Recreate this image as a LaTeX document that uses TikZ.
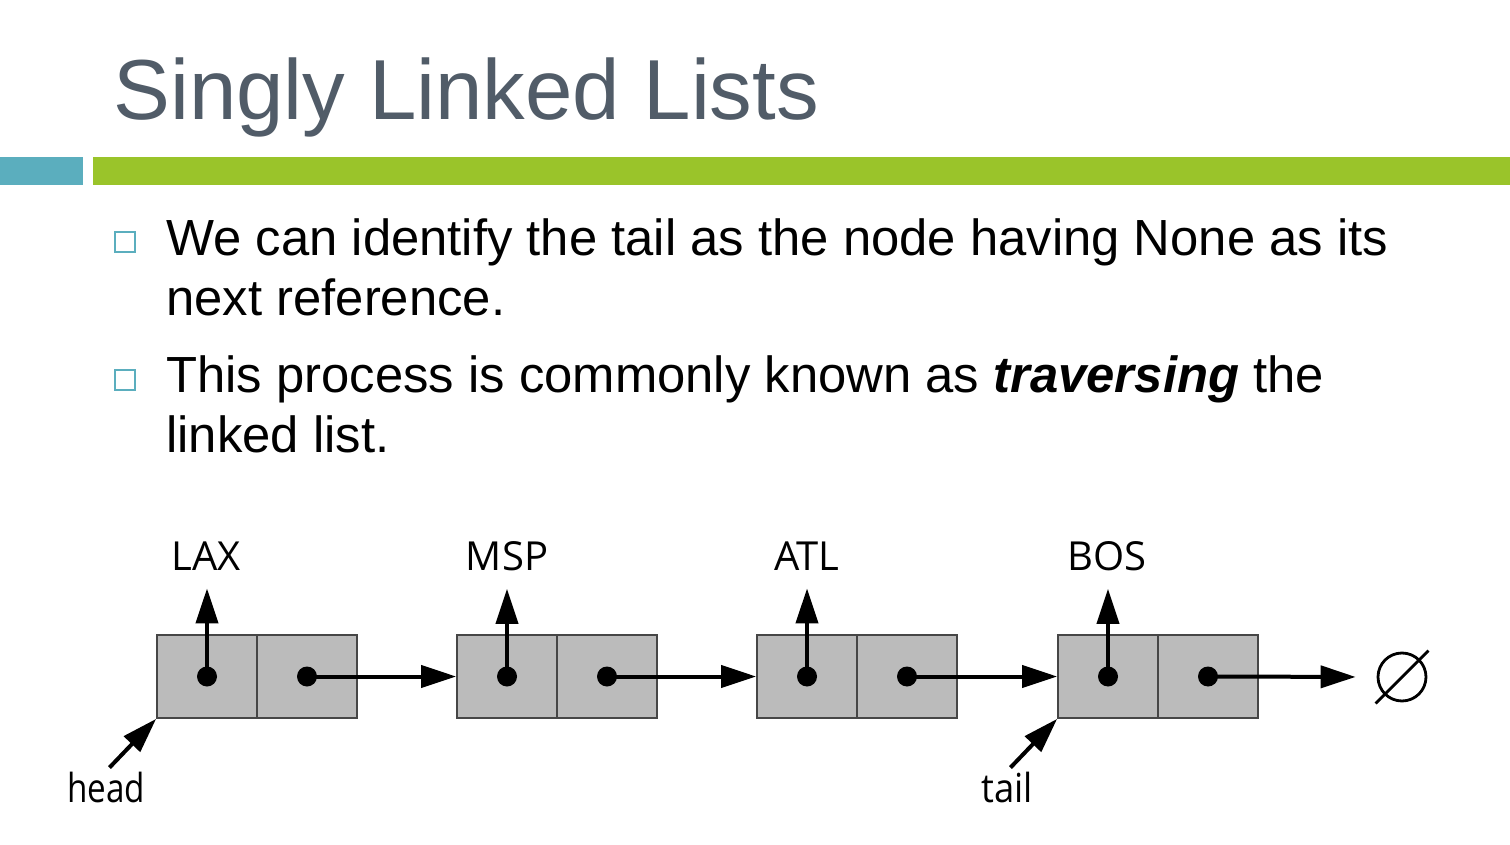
\documentclass[tikz,border=0pt]{standalone}
\usepackage{graphicx}
\usepackage{fontspec}
\setmainfont{Liberation Sans}
\newfontfamily\diagfont[Kerning=Off]{Open Sans}
\usetikzlibrary{arrows.meta}
\definecolor{titlec}{RGB}{81,92,104}
\definecolor{tealbar}{RGB}{91,174,190}
\definecolor{greenbar}{RGB}{154,196,42}
\definecolor{cellfill}{RGB}{187,187,187}
\definecolor{cellline}{RGB}{70,70,70}
\begin{document}
\begin{tikzpicture}[x=0.5pt,y=-0.5pt,
  cell/.style={draw=cellline, fill=cellfill, line width=0.9pt, minimum width=50pt, minimum height=41.5pt, inner sep=0pt},
  ptr/.style={line width=2pt, -{Triangle[length=17.5pt,width=11pt]}},
  dot/.style={circle, fill=black, minimum size=10pt, inner sep=0pt},
  lbl/.style={font=\diagfont\fontsize{20}{24}\selectfont, inner sep=0pt, anchor=base},
  bsq/.style={draw=tealbar, line width=0.8pt, minimum size=10pt, inner sep=0pt},
  btext/.style={font=\fontsize{25.4}{30}\selectfont, inner sep=0pt, anchor=base west},
  bar/.style={inner sep=0pt, minimum height=14pt}
]
\useasboundingbox (0,0) rectangle (1510,845);
\fill[white] (0,0) rectangle (1510,845);
% title
\node[font=\fontsize{42.6}{50}\selectfont, text=titlec, inner sep=0pt, anchor=base west] (title) at (113,120) {Singly Linked Lists};
% bars
\node[bar, fill=tealbar, minimum width=41.5pt] (tbar) at (41.5,171) {};
\node[bar, fill=greenbar, minimum width=708.5pt] (gbar) at (801.5,171) {};
% bullets
\node[bsq] (b1) at (125,242) {};
\node[btext] (l1) at (166,256) {We can identify the tail as the node having None as its};
\node[btext] (l2) at (166,315) {next reference.};
\node[bsq] (b2) at (125,380) {};
\node[btext] (l3) at (166,393) {This process is commonly known as \textbf{\textit{traversing}} the};
\node[btext] (l4) at (166,452) {linked list.};
% list nodes
\node[cell] (a1) at (207,676.5) {};
\node[cell] (a2) at (307,676.5) {};
\node[cell] (m1) at (507,676.5) {};
\node[cell] (m2) at (607,676.5) {};
\node[cell] (t1) at (807,676.5) {};
\node[cell] (t2) at (907,676.5) {};
\node[cell] (s1) at (1108,676.5) {};
\node[cell] (s2) at (1208,676.5) {};
\foreach \n in {a1,a2,m1,m2,t1,t2,s1,s2} \node[dot] (d\n) at (\n.center) {};
% labels
\node[lbl] (lax) at (206,570) {LAX};
\node[lbl] (msp) at (507,570) {MSP};
\node[lbl] (atl) at (807,570) {ATL};
\node[lbl] (bos) at (1107,570) {BOS};
\draw[ptr, shorten >=9pt] (a1.center) -- (a1.center |- lax.south);
\draw[ptr, shorten >=9pt] (m1.center) -- (m1.center |- msp.south);
\draw[ptr, shorten >=9pt] (t1.center) -- (t1.center |- atl.south);
\draw[ptr, shorten >=9pt] (s1.center) -- (s1.center |- bos.south);
% next pointers
\draw[ptr] (a2.center) -- (m1.west);
\draw[ptr] (m2.center) -- (t1.west);
\draw[ptr] (t2.center) -- (s1.west);
% null
\node[circle, draw, line width=1.4pt, minimum size=24pt, inner sep=0pt] (null) at (1402,677) {};
\draw[line width=1.4pt, shorten <=-6pt, shorten >=-6pt] (null.south west) -- (null.north east);
\draw[ptr, shorten >=10.5pt] (s2.center) -- (null.west);
% head / tail
\node[lbl] (head) at (106,802) {\scalebox{0.83}[1]{head}};
\node[lbl] (tail) at (1007,802) {\scalebox{0.91}[1]{tail}};
\draw[ptr, shorten <=2.5pt] (head.north) -- (a1.south west);
\draw[ptr, shorten <=2.5pt] (tail.north) -- (s1.south west);
\end{tikzpicture}
\end{document}
